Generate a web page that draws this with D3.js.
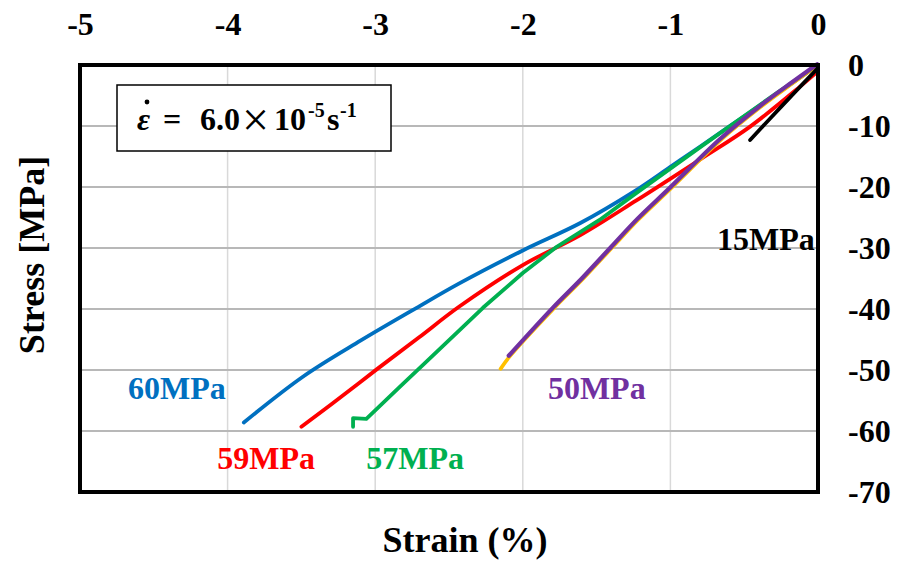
<!DOCTYPE html>
<html>
<head>
<meta charset="utf-8">
<script src="https://cdn.jsdelivr.net/npm/d3@7"></script>
<style>
  body { margin: 0; background: #fff; }
  svg text { font-family: "Liberation Serif", "Times New Roman", serif; font-weight: bold; }
</style>
</head>
<body>
<svg id="chart" width="900" height="565"></svg>
<script>
// ---- data (strain %, stress MPa) ----
const xTicks = [-5, -4, -3, -2, -1, 0];
const yTicks = [0, -10, -20, -30, -40, -50, -60, -70];

const blue60 = [[0,0],[-0.2,-3.4],[-0.5,-8.4],[-0.8,-13.4],[-1.0,-16.7],[-1.25,-20.8],[-1.61,-25.9],[-2.0,-30.4],[-2.43,-35.8],[-2.74,-40.1],[-3.10,-45.2],[-3.49,-51.1],[-3.89,-58.6]];
const red59 = [[0,-1],[-0.12,-3.5],[-0.46,-10.1],[-0.8,-15.5],[-1.23,-22.2],[-1.61,-27.9],[-2.0,-32.8],[-2.43,-39.6],[-2.70,-44.6],[-2.99,-49.9],[-3.29,-55.5],[-3.50,-59.3]];
const green57 = [[0,0],[-0.28,-4.6],[-0.8,-13.5],[-1.22,-20.8],[-1.48,-25.4],[-1.77,-29.8],[-2.0,-34.1],[-2.27,-39.8],[-2.43,-43.5],[-2.66,-48.8],[-2.83,-52.7],[-3.06,-58.0],[-3.15,-57.9],[-3.15,-59.3]];
const purple50 = [[0,0],[-0.17,-2.95],[-0.39,-6.9],[-0.66,-12.3],[-1.0,-20.3],[-1.22,-25.4],[-1.39,-29.8],[-1.59,-35.0],[-1.79,-39.9],[-2.09,-47.8]];
const orange50 = [[0,0],[-0.17,-2.95],[-0.39,-6.9],[-0.66,-12.3],[-1.0,-20.3],[-1.22,-25.4],[-1.39,-29.8],[-1.59,-35.0],[-1.79,-39.9],[-2.09,-47.8],[-2.15,-49.8]];
const black15 = [[0,-0.5],[-0.15,-4.3],[-0.31,-8.4],[-0.46,-12.3]];

const seriesLabels = [
  {text: "60MPa", color: "#0070C0", x: -4.675, y: -54.8},
  {text: "59MPa", color: "#FF0000", x: -4.07, y: -66.2},
  {text: "57MPa", color: "#00B050", x: -3.06, y: -66.2},
  {text: "50MPa", color: "#7030A0", x: -1.83, y: -54.8},
  {text: "15MPa", color: "#000000", x: -0.684, y: -30.4}
];

// ---- layout ----
const svg = d3.select("#chart");
const L = 80, R = 818, T = 65, B = 492;
const x = d3.scaleLinear().domain([-5, 0]).range([L, R]);
const y = d3.scaleLinear().domain([-70, 0]).range([B, T]);
const fmt = d => String(d);

// gridlines
svg.append("g").selectAll("line").data(xTicks.slice(1, -1)).join("line")
  .attr("x1", d => x(d)).attr("x2", d => x(d)).attr("y1", T).attr("y2", B)
  .attr("stroke", "#d9d9d9").attr("stroke-width", 1.5);
svg.append("g").selectAll("line").data(yTicks.slice(1, -1)).join("line")
  .attr("x1", L).attr("x2", R).attr("y1", d => y(d)).attr("y2", d => y(d))
  .attr("stroke", "#b8b8b8").attr("stroke-width", 2);

// axes
const topAxis = svg.append("g").attr("transform", `translate(0,${T})`)
  .call(d3.axisTop(x).tickValues(xTicks).tickSize(0).tickPadding(30).tickFormat(fmt));
topAxis.select(".domain").remove();
topAxis.selectAll("text").attr("font-size", 32).attr("fill", "#000")
  .style("font-family", '"Liberation Serif", serif').style("font-weight", "bold");

const rightAxis = svg.append("g").attr("transform", `translate(${R},0)`)
  .call(d3.axisRight(y).tickValues(yTicks).tickSize(0).tickPadding(30).tickFormat(fmt));
rightAxis.select(".domain").remove();
rightAxis.selectAll("text").attr("font-size", 32).attr("fill", "#000")
  .style("font-family", '"Liberation Serif", serif').style("font-weight", "bold");

// lines
const smooth = d3.line().x(d => x(d[0])).y(d => y(d[1])).curve(d3.curveCatmullRom.alpha(0.5));
const straight = d3.line().x(d => x(d[0])).y(d => y(d[1]));
const draw = (data, color, w, gen) => svg.append("path").datum(data).attr("d", gen || smooth)
  .attr("fill", "none").attr("stroke", color).attr("stroke-width", w)
  .attr("stroke-linejoin", "round").attr("stroke-linecap", "round");
draw(blue60, "#0070C0", 3.8);
draw(red59, "#FF0000", 3.8);
draw(green57, "#00B050", 3.8, straight);
draw(orange50, "#FFC000", 3.8);
draw(purple50, "#7030A0", 4.2).attr("transform", "translate(-0.8,-0.8)");
draw(black15, "#000000", 3.8);

// plot border
svg.append("rect").attr("x", L).attr("y", T).attr("width", R - L).attr("height", B - T)
  .attr("fill", "none").attr("stroke", "#000").attr("stroke-width", 4);

// series labels
svg.append("g").selectAll("text").data(seriesLabels).join("text")
  .attr("x", d => x(d.x)).attr("y", d => y(d.y))
  .attr("fill", d => d.color).attr("font-size", 32).text(d => d.text);

// rate box
svg.append("rect").attr("x", 117).attr("y", 85).attr("width", 274).attr("height", 66)
  .attr("fill", "#fff").attr("stroke", "#000").attr("stroke-width", 1.5);
const g = svg.append("g");
const parts = [
  {t: "ε", x: 137, y: 130, size: 32, it: true},
  {t: "=", x: 163, y: 130, size: 32},
  {t: "6.0", x: 200, y: 130, size: 32},
  {t: "×", x: 242, y: 136, size: 48, normal: true},
  {t: "10", x: 274, y: 130, size: 32},
  {t: "-5", x: 308, y: 117, size: 20},
  {t: "s", x: 327, y: 130, size: 32},
  {t: "-1", x: 340, y: 117, size: 20}
];
g.selectAll("text").data(parts).join("text")
  .attr("x", d => d.x).attr("y", d => d.y)
  .attr("font-size", d => d.size)
  .attr("font-style", d => d.it ? "italic" : null)
  .style("font-weight", d => d.normal ? "normal" : "bold")
  .text(d => d.t);
// dot over epsilon
svg.append("circle").attr("cx", 147).attr("cy", 102).attr("r", 2.4).attr("fill", "#000");

// axis titles
svg.append("text").attr("x", 465).attr("y", 552).attr("text-anchor", "middle")
  .attr("font-size", 36).text("Strain (%)");
svg.append("text").attr("transform", "translate(44,255) rotate(-90)").attr("text-anchor", "middle")
  .attr("font-size", 36).text("Stress [MPa]");
</script>
</body>
</html>
